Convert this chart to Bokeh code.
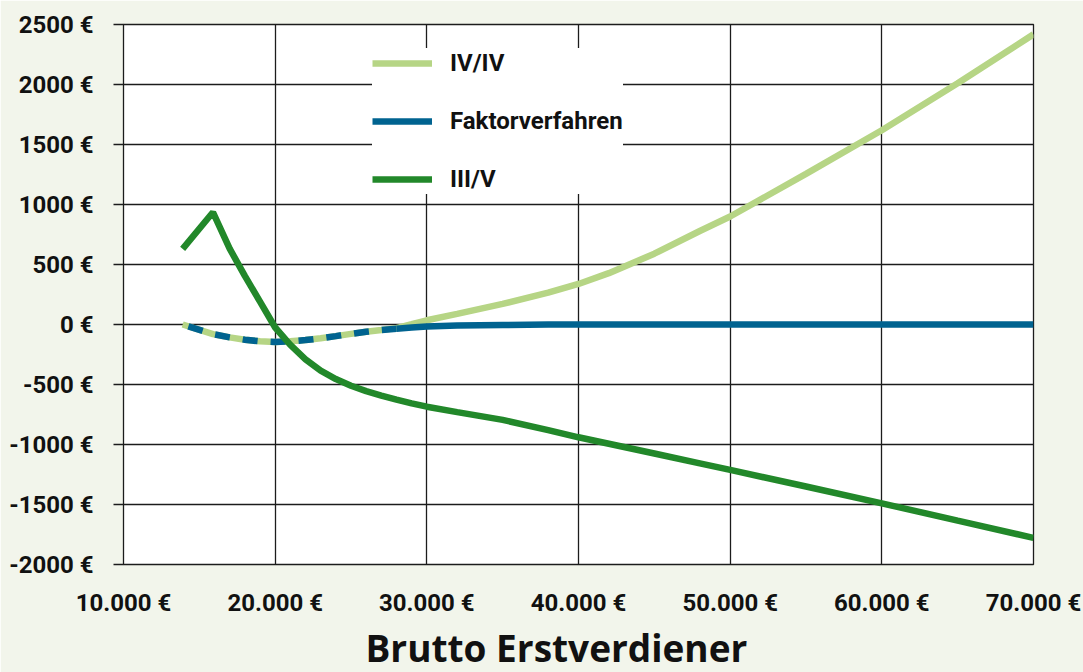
from bokeh.plotting import figure
from bokeh.models import Range1d, FixedTicker, Legend, LegendItem, Title
from bokeh.embed import file_html
from bokeh.resources import INLINE

# ---- data ----
brutto = [13900, 15900, 17000, 18000, 19000, 20000, 21000, 22000, 23000, 24000,
          25000, 26000, 27000, 28000, 29000, 30000, 32000, 35000, 38000, 40000,
          42000, 45000, 48000, 50000, 55000, 60000, 65000, 70000]
iv_iv = [0, -80, -107, -127, -140, -146, -140, -130, -115, -97,
         -78, -60, -46, -30, 2, 35, 88, 172, 265, 338,
         428, 590, 779, 900, 1255, 1619, 2010, 2418]
faktor = [0, -80, -107, -127, -140, -146, -140, -130, -115, -97,
          -78, -60, -46, -35, -25, -17, -9, -4, -1, 0,
          0, 0, 0, 0, 0, 0, 0, 0]
iii_v = [630, 935, 632, 405, 190, -25, -170, -290, -385, -455,
         -510, -555, -592, -626, -657, -685, -730, -795, -880, -940,
         -994, -1075, -1157, -1212, -1350, -1490, -1635, -1778]
overlap_end = 28000  # Faktorverfahren and IV/IV coincide up to here

x_ticks = [10000, 20000, 30000, 40000, 50000, 60000, 70000]
x_tick_labels = ["10.000 €", "20.000 €", "30.000 €", "40.000 €", "50.000 €", "60.000 €", "70.000 €"]
y_ticks = [-2000, -1500, -1000, -500, 0, 500, 1000, 1500, 2000, 2500]
y_tick_labels = ["-2000 €", "-1500 €", "-1000 €", "-500 €", "0 €", "500 €", "1000 €", "1500 €", "2000 €", "2500 €"]
series_names = ["IV/IV", "Faktorverfahren", "III/V"]
x_title = "Brutto Erstverdiener"

# ---- styling ----
BG = "#f2f5eb"
C_IV = "#b6d585"
C_FAK = "#006390"
C_III = "#22882a"
GRID = "#1c1c1c"
FONT = "Roboto"

p = figure(width=1083, height=672,
           x_range=Range1d(10000, 70000), y_range=Range1d(-2000, 2500),
           output_backend="svg", toolbar_location=None,
           min_border_left=123, min_border_right=50,
           min_border_top=24, min_border_bottom=108,
           background_fill_color="white", border_fill_color=BG,
           outline_line_color=GRID, outline_line_width=1.3)

# axes
p.xaxis.ticker = FixedTicker(ticks=x_ticks)
p.xaxis.major_label_overrides = {t: l for t, l in zip(x_ticks, x_tick_labels)}
p.yaxis.ticker = FixedTicker(ticks=y_ticks)
p.yaxis.major_label_overrides = {t: l for t, l in zip(y_ticks, y_tick_labels)}
for ax in (p.xaxis, p.yaxis):
    ax.major_label_text_font = FONT
    ax.major_label_text_font_style = "bold"
    ax.major_label_text_font_size = "24px"
    ax.major_label_text_color = "#111111"
    ax.minor_tick_line_color = None
    ax.axis_line_color = None
    ax.axis_label_standoff = 0
p.xaxis.major_tick_line_color = None
p.xaxis.major_tick_out = 0
p.xaxis.major_tick_in = 0
p.xaxis.major_label_standoff = 24
p.yaxis.major_tick_line_color = GRID
p.yaxis.major_tick_line_width = 1.3
p.yaxis.major_tick_out = 10
p.yaxis.major_tick_in = 0
p.yaxis.major_label_standoff = 20

p.xgrid.grid_line_color = GRID
p.ygrid.grid_line_color = GRID
p.xgrid.grid_line_width = 1.3
p.ygrid.grid_line_width = 1.3

# lines
k = brutto.index(overlap_end)
r_iv = p.line(brutto, iv_iv, line_color=C_IV, line_width=6.5)
p.line(brutto[:k + 1], faktor[:k + 1], line_color=C_FAK, line_width=6.5,
       line_dash="15 13", line_dash_offset=22)
r_fak = p.line(brutto[k:], faktor[k:], line_color=C_FAK, line_width=6.5)
r_iii = p.line(brutto, iii_v, line_color=C_III, line_width=6.5)

legend = Legend(items=[LegendItem(label=series_names[0], renderers=[r_iv]),
                       LegendItem(label=series_names[1], renderers=[r_fak]),
                       LegendItem(label=series_names[2], renderers=[r_iii])],
                location=(249, 370), margin=0, padding=9, spacing=28,
                glyph_width=60, glyph_height=30, label_height=30, label_standoff=18,
                background_fill_color="white", background_fill_alpha=1.0,
                border_line_color=None,
                label_text_font=FONT, label_text_font_style="bold",
                label_text_font_size="24px", label_text_color="#111111")
p.add_layout(legend)

p.add_layout(Title(text=x_title, align="left", offset=242, standoff=0,
                   text_font="Open Sans", text_font_style="bold",
                   text_font_size="37px", text_color="#111111"), "below")

open("out.html", "w").write(file_html(p, INLINE))
